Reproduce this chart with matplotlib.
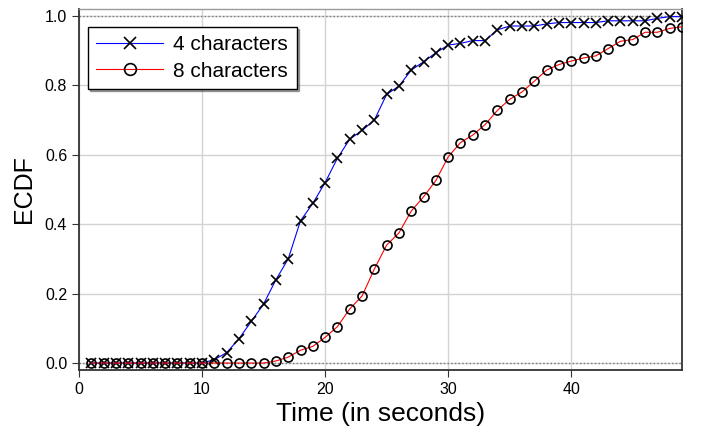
import numpy as np
import matplotlib
matplotlib.use("Agg")
import matplotlib.pyplot as plt

plt.rcParams["font.family"] = ["Liberation Sans", "DejaVu Sans"]

# time in seconds
time = list(range(1, 50))

# ECDF, 4 characters
ecdf_4 = [0, 0, 0, 0, 0, 0, 0, 0, 0, 0,
          0.01, 0.03, 0.07, 0.12, 0.17, 0.24, 0.30, 0.41, 0.46, 0.52,
          0.59, 0.645, 0.67, 0.70, 0.774, 0.798, 0.844, 0.868, 0.894, 0.916,
          0.921, 0.929, 0.929, 0.960, 0.971, 0.971, 0.971, 0.977, 0.981, 0.981,
          0.981, 0.981, 0.986, 0.986, 0.986, 0.986, 0.993, 0.998, 0.998]

# ECDF, 8 characters
ecdf_8 = [0, 0, 0, 0, 0, 0, 0, 0, 0, 0,
          0, 0, 0, 0, 0, 0.006, 0.017, 0.037, 0.048, 0.074,
          0.105, 0.156, 0.193, 0.271, 0.340, 0.375, 0.438, 0.479, 0.526, 0.594,
          0.635, 0.657, 0.687, 0.728, 0.760, 0.781, 0.812, 0.844, 0.860, 0.870,
          0.879, 0.885, 0.906, 0.927, 0.932, 0.953, 0.953, 0.964, 0.969]

fig = plt.figure(figsize=(7.01, 4.34), dpi=100)
ax = fig.add_axes([79 / 701, 64 / 434, 603 / 701, 361 / 434])

ax.grid(True, color="#d3d3d3", lw=1)
ax.set_axisbelow(True)

ax.axhline(0, color="#777777", lw=1, ls=":", zorder=1)
ax.axhline(1, color="#777777", lw=1, ls=":", zorder=1)

ax.plot(time, ecdf_4, color="blue", lw=0.8, marker="x", ms=6.5, mec="black",
        mew=1.2, label="4 characters", zorder=3)
ax.plot(time, ecdf_8, color="red", lw=0.8, marker="o", ms=6.5, mec="black",
        mfc="none", mew=1.2, label="8 characters", zorder=3)

ax.set_xlim(0, 49)
ax.set_ylim(-0.02, 1.02)
ax.set_xticks([0, 10, 20, 30, 40])
ax.set_yticks([0.0, 0.2, 0.4, 0.6, 0.8, 1.0])
ax.tick_params(labelsize=11.5, length=5, color="#333333")

for s in ax.spines.values():
    s.set_color("#333333")
    s.set_linewidth(1.3)
ax.spines["top"].set_color("#999999")
ax.spines["top"].set_linewidth(1)

ax.set_xlabel("Time (in seconds)", fontsize=19, labelpad=4)
ax.set_ylabel("ECDF", fontsize=18, labelpad=6)

leg = ax.legend(loc="upper left", bbox_to_anchor=(0.015, 0.95), borderaxespad=0,
                fontsize=15, fancybox=False, shadow={"ox": 1.5, "oy": -1.5},
                edgecolor="black", framealpha=1, handlelength=3.2,
                handletextpad=0.5, borderpad=0.4, labelspacing=0.35,
                markerscale=1.3)
leg.get_frame().set_linewidth(1)

fig.savefig("out.png", dpi=100)
